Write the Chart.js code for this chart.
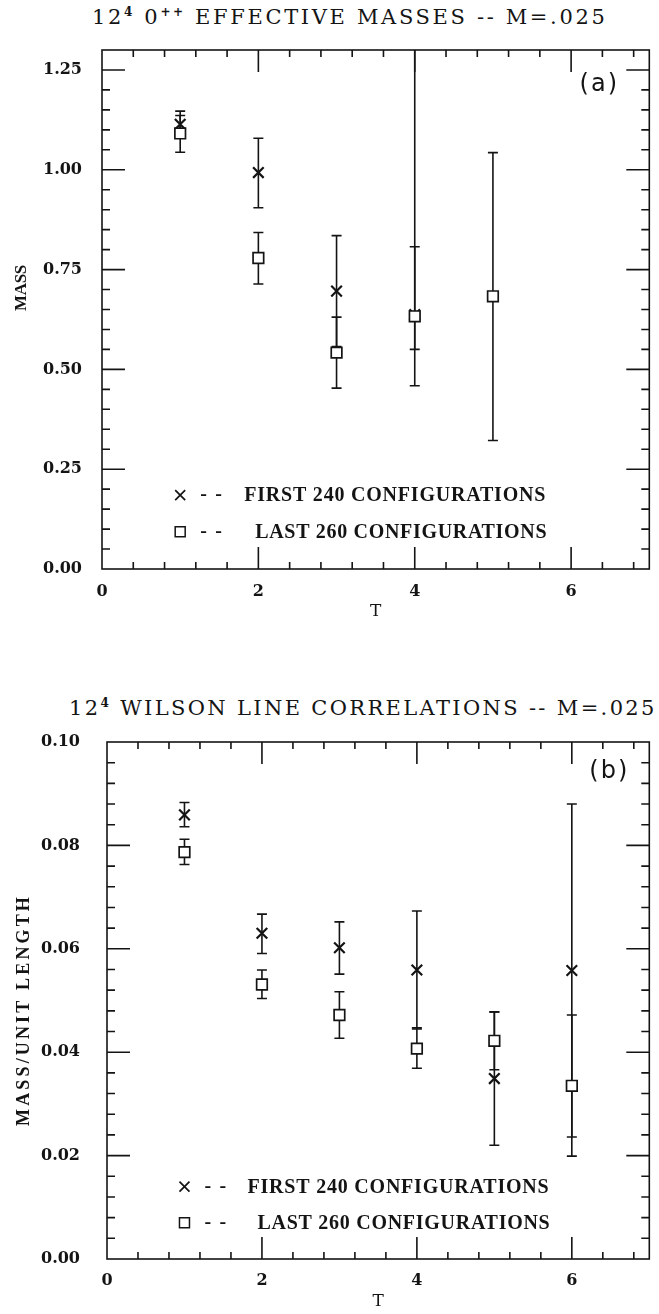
<!DOCTYPE html>
<html lang="en">
<head>
  <meta charset="UTF-8">
  <title>12^4 effective masses / Wilson line correlations</title>
  <script src="https://cdn.jsdelivr.net/npm/chart.js@4.4.1/dist/chart.umd.min.js"></script>
  <style>
    body {
      margin: 0;
      background: #fff;
      width: 659px;
      height: 1314px;
      position: relative;
      overflow: hidden;
    }

    canvas {
      position: absolute;
      left: 0;
    }

    #chartA { top: 0; }
    #chartB { top: 690px; }

    .title {
      position: absolute;
      white-space: nowrap;
      font-family: "DejaVu Serif", serif;
      font-size: 21px;
      line-height: 24px;
      color: #141414;
    }

    .title sup {
      font-size: 12px;
      font-weight: bold;
      vertical-align: 8px;
      line-height: 0;
    }
  </style>
</head>
<body>
  <div class="title" id="titleA" data-left="92" data-width="515" data-mid="17">12<sup>4</sup> 0<sup>++</sup> EFFECTIVE MASSES -- M=.025</div>
  <div class="title" id="titleB" data-left="69" data-width="588" data-mid="708">12<sup>4</sup> WILSON LINE CORRELATIONS -- M=.025</div>

  <canvas id="chartA" width="659" height="640"></canvas>
  <canvas id="chartB" width="659" height="624"></canvas>

  <script>
    // ---- data ----
    const xTicks = [0, 2, 4, 6];
    const legendLabels = ['FIRST 240 CONFIGURATIONS', 'LAST 260 CONFIGURATIONS'];

    // (a) 0++ effective masses
    const yTicksA = [0, 0.25, 0.5, 0.75, 1.0, 1.25];
    const tFirstA = [1, 2, 3, 4];
    const massFirstA = [1.114, 0.993, 0.696, 0.637];
    const massFirstLowA = [1.081, 0.905, 0.557, 0.55];
    const massFirstHighA = [1.147, 1.079, 0.835, 1.40];
    const tLastA = [1, 2, 3, 4, 5];
    const massLastA = [1.091, 0.779, 0.542, 0.633, 0.683];
    const massLastLowA = [1.044, 0.714, 0.453, 0.459, 0.322];
    const massLastHighA = [1.136, 0.843, 0.631, 0.807, 1.043];

    // (b) Wilson line correlations
    const yTicksB = [0, 0.02, 0.04, 0.06, 0.08, 0.10];
    const tFirstB = [1, 2, 3, 4, 5, 6];
    const wilsonFirstB = [0.0859, 0.0630, 0.0602, 0.0559, 0.0349, 0.0558];
    const wilsonFirstLowB = [0.0836, 0.0591, 0.0551, 0.0445, 0.0220, 0.0236];
    const wilsonFirstHighB = [0.0883, 0.0667, 0.0652, 0.0673, 0.0478, 0.0880];
    const tLastB = [1, 2, 3, 4, 5, 6];
    const wilsonLastB = [0.0787, 0.0531, 0.0472, 0.0407, 0.0422, 0.0335];
    const wilsonLastLowB = [0.0763, 0.0504, 0.0427, 0.0369, 0.0366, 0.0199];
    const wilsonLastHighB = [0.0812, 0.0559, 0.0517, 0.0447, 0.0478, 0.0472];

    const INK = '#141414';
    const SERIF = '"DejaVu Serif", serif';

    // stretch a title div to the width it has in the figure
    document.querySelectorAll('.title').forEach(function (el) {
      const target = +el.dataset.width;
      const n = el.textContent.length;
      el.style.letterSpacing = ((target - el.offsetWidth) / n) + 'px';
      el.style.left = el.dataset.left + 'px';
      el.style.top = (+el.dataset.mid - el.offsetHeight / 2) + 'px';
    });

    function points(xs, ys) {
      return xs.map(function (x, i) { return { x: x, y: ys[i] }; });
    }

    // draw text so it spans a given width
    function spreadText(ctx, text, x, y, width) {
      ctx.letterSpacing = '0px';
      const w = ctx.measureText(text).width;
      ctx.letterSpacing = ((width - w) / text.length) + 'px';
      ctx.textAlign = 'left';
      ctx.fillText(text, x, y);
      ctx.letterSpacing = '0px';
    }

    const errorBars = {
      id: 'errorBars',
      beforeDatasetsDraw(chart) {
        const { ctx, chartArea: a, scales: { x, y } } = chart;
        ctx.save();
        ctx.beginPath();
        ctx.rect(a.left, a.top, a.right - a.left, a.bottom - a.top);
        ctx.clip();
        ctx.strokeStyle = INK;
        ctx.lineWidth = 1.6;
        chart.data.datasets.forEach(function (ds) {
          ds.data.forEach(function (pt, i) {
            const px = x.getPixelForValue(pt.x);
            const lo = y.getPixelForValue(ds.low[i]);
            const hi = y.getPixelForValue(ds.high[i]);
            ctx.beginPath();
            ctx.moveTo(px, lo); ctx.lineTo(px, hi);
            ctx.moveTo(px - 5, lo); ctx.lineTo(px + 5, lo);
            ctx.moveTo(px - 5, hi); ctx.lineTo(px + 5, hi);
            ctx.stroke();
          });
        });
        ctx.restore();
      }
    };

    // box frame with inward major/minor ticks on all four sides
    const frameTicks = {
      id: 'frameTicks',
      afterDraw(chart, args, opts) {
        const { ctx, chartArea: a, scales: { x, y } } = chart;
        ctx.save();
        ctx.strokeStyle = INK;
        ctx.lineWidth = 1.6;
        ctx.strokeRect(a.left, a.top, a.right - a.left, a.bottom - a.top);
        ctx.beginPath();
        function yTick(v, len) {
          const py = y.getPixelForValue(v);
          ctx.moveTo(a.left, py); ctx.lineTo(a.left + len, py);
          ctx.moveTo(a.right, py); ctx.lineTo(a.right - len, py);
        }
        function xTick(v, len) {
          const px = x.getPixelForValue(v);
          ctx.moveTo(px, a.bottom); ctx.lineTo(px, a.bottom - len);
          ctx.moveTo(px, a.top); ctx.lineTo(px, a.top + len);
        }
        function isMajor(v, list) {
          return list.some(function (m) { return Math.abs(m - v) < 1e-9; });
        }
        let n = Math.round((y.max - y.min) / opts.yMinor);
        for (let i = 1; i < n; i++) {
          const v = y.min + i * opts.yMinor;
          yTick(v, isMajor(v, opts.yMajor) ? 23 : 8);
        }
        n = Math.round((x.max - x.min) / opts.xMinor);
        for (let i = 1; i <= n; i++) {
          const v = x.min + i * opts.xMinor;
          if (v >= x.max - 1e-9) break;
          xTick(v, isMajor(v, xTicks) ? 22 : 7);
        }
        ctx.stroke();
        ctx.restore();
      }
    };

    // legend rows, panel letter and axis titles
    const annotations = {
      id: 'annotations',
      afterDraw(chart, args, opts) {
        const { ctx, chartArea: a, scales: { x, y } } = chart;
        ctx.save();
        ctx.fillStyle = INK;
        ctx.strokeStyle = INK;
        ctx.textBaseline = 'middle';

        const mx = x.getPixelForValue(1);
        opts.rows.forEach(function (rowValue, r) {
          const py = y.getPixelForValue(rowValue);
          ctx.beginPath();
          if (r === 0) {
            ctx.lineWidth = 1.7;
            ctx.moveTo(mx - 5, py - 5); ctx.lineTo(mx + 5, py + 5);
            ctx.moveTo(mx + 5, py - 5); ctx.lineTo(mx - 5, py + 5);
          } else {
            ctx.lineWidth = 1.5;
            ctx.rect(mx - 5, py - 5, 10, 10);
          }
          ctx.stroke();
          ctx.font = 'bold 20px "Liberation Serif", serif';
          spreadText(ctx, '--', mx + 20, py, 30);
          const span = opts.textSpans[r];
          spreadText(ctx, legendLabels[r], mx + span[0], py + 1, span[1] - span[0]);
        });

        ctx.font = '24px "DejaVu Sans", sans-serif';
        ctx.textAlign = 'center';
        ctx.letterSpacing = '2px';
        ctx.fillText(opts.letter, a.right + opts.letterPos[0], a.top + opts.letterPos[1]);
        ctx.letterSpacing = '0px';

        ctx.font = '17px ' + SERIF;
        ctx.fillText('T', (a.left + a.right) / 2, opts.xTitleY);

        ctx.save();
        ctx.translate(opts.yTitlePos[0], opts.yTitlePos[1]);
        ctx.rotate(-Math.PI / 2);
        ctx.font = opts.yTitleFont;
        spreadText(ctx, opts.yTitle, -opts.yTitleLen / 2, 0, opts.yTitleLen);
        ctx.restore();

        ctx.restore();
      }
    };

    function buildPanel(id, p) {
      const tickFont = { family: SERIF, size: 16, weight: 'bold' };
      return new Chart(document.getElementById(id), {
        type: 'scatter',
        data: {
          datasets: [
            {
              label: legendLabels[1],
              data: points(p.tLast, p.last),
              low: p.lastLow,
              high: p.lastHigh,
              pointStyle: 'rect',
              pointRadius: 7.5,
              borderWidth: 1.7,
              borderColor: INK,
              backgroundColor: '#fff',
              order: 0
            },
            {
              label: legendLabels[0],
              data: points(p.tFirst, p.first),
              low: p.firstLow,
              high: p.firstHigh,
              pointStyle: 'crossRot',
              pointRadius: 7.5,
              borderWidth: 2.2,
              borderColor: INK,
              backgroundColor: INK,
              order: 1
            }
          ]
        },
        options: {
          responsive: false,
          animation: false,
          events: [],
          layout: { padding: { left: 0, right: p.padRight, top: p.padTop, bottom: 0 } },
          plugins: {
            legend: { display: false },
            tooltip: { enabled: false },
            frameTicks: { yMajor: p.yTicks, yMinor: p.yMinor, xMinor: 0.4 },
            annotations: p.notes
          },
          scales: {
            x: {
              type: 'linear',
              min: 0,
              max: 7,
              afterBuildTicks: function (s) { s.ticks = xTicks.map(function (v) { return { value: v }; }); },
              afterFit: function (s) { s.height = p.xAxisHeight; },
              grid: { display: false, drawTicks: false },
              border: { display: false },
              ticks: {
                padding: p.xLabelPad,
                color: INK,
                font: tickFont,
                maxRotation: 0,
                autoSkip: false,
                callback: function (v) { return String(v); }
              }
            },
            y: {
              type: 'linear',
              min: 0,
              max: p.yMax,
              afterBuildTicks: function (s) { s.ticks = p.yTicks.map(function (v) { return { value: v }; }); },
              afterFit: function (s) { s.width = p.yAxisWidth; },
              grid: { display: false, drawTicks: false },
              border: { display: false },
              ticks: {
                padding: p.yLabelPad,
                color: INK,
                font: tickFont,
                autoSkip: false,
                callback: function (v) { return v.toFixed(2); }
              }
            }
          }
        },
        plugins: [errorBars, frameTicks, annotations]
      });
    }

    buildPanel('chartA', {
      tFirst: tFirstA, first: massFirstA, firstLow: massFirstLowA, firstHigh: massFirstHighA,
      tLast: tLastA, last: massLastA, lastLow: massLastLowA, lastHigh: massLastHighA,
      yTicks: yTicksA, yMinor: 0.05, yMax: 1.3,
      padTop: 50, padRight: 9, yAxisWidth: 102, xAxisHeight: 71,
      xLabelPad: 13, yLabelPad: 20,
      notes: {
        rows: [0.185, 0.093],
        textSpans: [[64, 366], [75, 367]],
        letter: '(a)', letterPos: [-50, 35],
        xTitleY: 612,
        yTitle: 'MASS', yTitleLen: 46, yTitleFont: 'bold 17px "Liberation Serif", serif', yTitlePos: [22, 288]
      }
    });

    buildPanel('chartB', {
      tFirst: tFirstB, first: wilsonFirstB, firstLow: wilsonFirstLowB, firstHigh: wilsonFirstHighB,
      tLast: tLastB, last: wilsonLastB, lastLow: wilsonLastLowB, lastHigh: wilsonLastHighB,
      yTicks: yTicksB, yMinor: 0.004, yMax: 0.10,
      padTop: 52, padRight: 4, yAxisWidth: 107, xAxisHeight: 55,
      xLabelPad: 12, yLabelPad: 27,
      notes: {
        rows: [0.0140, 0.0070],
        textSpans: [[63, 365], [73, 366]],
        letter: '(b)', letterPos: [-40, 30],
        xTitleY: 612,
        yTitle: 'MASS/UNIT LENGTH', yTitleLen: 232, yTitleFont: 'bold 18px "Liberation Serif", serif', yTitlePos: [24, 320]
      }
    });
  </script>
</body>
</html>
